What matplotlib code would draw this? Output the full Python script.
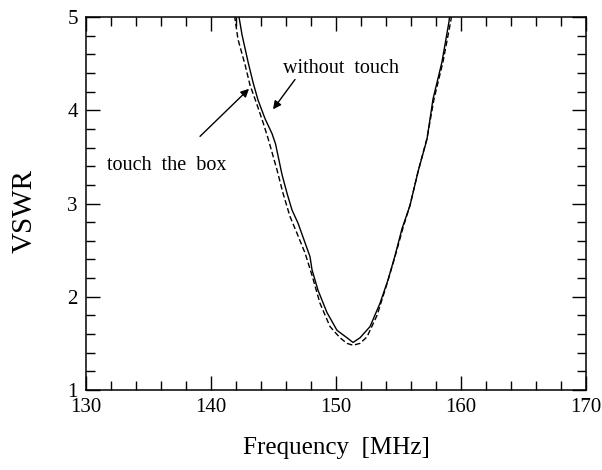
import matplotlib.pyplot as plt
from matplotlib.ticker import MultipleLocator

plt.rcParams['font.family'] = ['Liberation Serif', 'DejaVu Serif']

# without touch (solid)
f_solid = [142.0, 142.24, 142.48, 142.96, 143.36, 143.76, 144.32, 144.88, 145.16, 145.68,
           146.08, 146.48, 146.96, 147.36, 147.92, 148.08, 148.56, 149.28, 150.08, 150.88,
           151.36, 151.92, 152.72, 153.52, 154.16, 154.72, 155.28, 155.92, 156.56, 157.28,
           157.76, 158.48, 159.04, 159.2]
v_solid = [5.25, 5.00, 4.81, 4.52, 4.30, 4.11, 3.91, 3.75, 3.64, 3.31,
           3.11, 2.93, 2.79, 2.64, 2.43, 2.29, 2.07, 1.83, 1.64, 1.56,
           1.51, 1.56, 1.68, 1.93, 2.18, 2.44, 2.73, 2.98, 3.34, 3.69,
           4.12, 4.52, 4.95, 5.15]

# touch the box (dashed)
f_dash = [141.7, 141.92, 142.16, 142.72, 143.12, 143.68, 144.16, 144.56, 145.28, 145.76,
          146.32, 146.88, 147.52, 148.08, 148.72, 149.52, 150.32, 150.88, 151.36, 151.92,
          152.48, 153.28, 154.08, 154.72, 155.36, 155.92, 156.56, 157.28, 157.84, 158.56,
          159.2, 159.35]
v_dash = [5.25, 4.98, 4.76, 4.49, 4.27, 4.06, 3.87, 3.70, 3.36, 3.11,
          2.86, 2.68, 2.47, 2.23, 1.93, 1.68, 1.56, 1.50, 1.48, 1.50,
          1.57, 1.80, 2.14, 2.43, 2.74, 2.98, 3.34, 3.70, 4.12, 4.52,
          4.97, 5.15]

fig = plt.figure(figsize=(6.02, 4.70), dpi=100)
ax = fig.add_axes([0.1429, 0.1702, 0.8305, 0.7936])

ax.plot(f_solid, v_solid, color='black', lw=1.0)
ax.plot(f_dash, v_dash, color='black', lw=1.0, linestyle=(0, (4, 2)))

ax.set_xlim(130, 170)
ax.set_ylim(1, 5)
ax.xaxis.set_major_locator(MultipleLocator(10))
ax.xaxis.set_minor_locator(MultipleLocator(2))
ax.yaxis.set_major_locator(MultipleLocator(1))
ax.yaxis.set_minor_locator(MultipleLocator(0.2))
ax.tick_params(which='both', direction='in', top=True, right=True, labelsize=15, width=1)
ax.tick_params(which='major', length=10, pad=6)
ax.tick_params(which='minor', length=6.5)
for s in ax.spines.values():
    s.set_linewidth(1.1)

ax.set_xlabel('Frequency  [MHz]', fontsize=18, labelpad=14)
ax.set_ylabel('VSWR', fontsize=21)
ax.yaxis.set_label_coords(-0.096, 0.48)

arrow = dict(arrowstyle='-|>', color='black', lw=1, mutation_scale=12, shrinkA=0, shrinkB=0)
ax.text(145.76, 4.45, 'without  touch', fontsize=14.5, ha='left', va='center')
ax.annotate('', xy=(144.96, 4.01), xytext=(146.72, 4.33), arrowprops=arrow)
ax.annotate('', xy=(143.04, 4.23), xytext=(139.12, 3.72), arrowprops=arrow)
ax.text(131.7, 3.41, 'touch  the  box', fontsize=14.5, ha='left', va='center')

fig.savefig('out.png', dpi=100)
